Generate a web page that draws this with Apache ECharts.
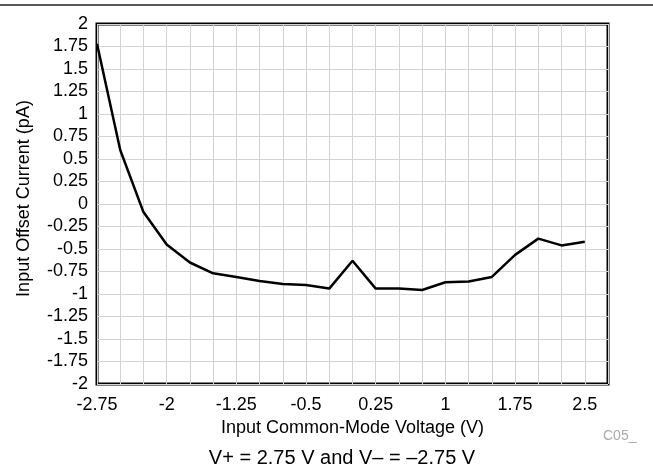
<!DOCTYPE html>
<html>
<head>
<meta charset="utf-8">
<script src="https://cdn.jsdelivr.net/npm/echarts@6/dist/echarts.min.js"></script>
<style>
html,body{margin:0;padding:0;background:#fff;}
#c{width:653px;height:474px;}
</style>
</head>
<body>
<div id="c"></div>
<script>
const voltages = [-2.75,-2.5,-2.25,-2,-1.75,-1.5,-1.25,-1,-0.75,-0.5,-0.25,0,0.25,0.5,0.75,1,1.25,1.5,1.75,2,2.25,2.5];
const offsetCurrent = [1.78,0.6,-0.09,-0.45,-0.65,-0.77,-0.81,-0.855,-0.89,-0.9,-0.94,-0.63,-0.94,-0.94,-0.955,-0.87,-0.86,-0.81,-0.565,-0.385,-0.46,-0.42];
const xTickLabels = ['-2.75','-2','-1.25','-0.5','0.25','1','1.75','2.5'];
const xLabel = 'Input Common-Mode Voltage (V)';
const yLabel = 'Input Offset Current (pA)';
const caption = 'V+ = 2.75 V and V\u2013 = \u20132.75 V';
const codeTag = 'C05_';

const FONT = "'Liberation Sans', Arial, Helvetica, sans-serif";
const chart = echarts.init(document.getElementById('c'));
chart.setOption({
  animation: false,
  textStyle: {fontFamily: FONT},
  grid: {left: 97, right: 45, top: 24, bottom: 90, show: true, borderColor: '#000', borderWidth: 3, backgroundColor: 'transparent'},
  xAxis: {
    type: 'value', min: -2.75, max: 2.75, interval: 0.25,
    axisLine: {show: false}, axisTick: {show: false},
    splitLine: {show: true, lineStyle: {color: '#d3d3d3', width: 1}},
    axisLabel: {
      color: '#000', fontSize: 18, fontFamily: FONT, margin: 12,
      formatter: function (v) {
        const s = String(Math.round(v * 100) / 100);
        return xTickLabels.indexOf(s) >= 0 ? s : '';
      }
    },
    name: xLabel, nameLocation: 'middle', nameGap: 32,
    nameTextStyle: {color: '#000', fontSize: 18, fontFamily: FONT}
  },
  yAxis: {
    type: 'value', min: -2, max: 2, interval: 0.25,
    axisLine: {show: false}, axisTick: {show: false},
    splitLine: {show: true, lineStyle: {color: '#d3d3d3', width: 1}},
    axisLabel: {color: '#000', fontSize: 18, fontFamily: FONT, margin: 9},
    name: yLabel, nameLocation: 'middle', nameGap: 64,
    nameTextStyle: {color: '#000', fontSize: 18, fontFamily: FONT, padding: [0, 0, 0, 11]}
  },
  series: [{
    type: 'line',
    data: voltages.map((v, i) => [v, offsetCurrent[i]]),
    showSymbol: false,
    lineStyle: {color: '#000', width: 2.5},
    z: 3
  }],
  graphic: [
    {type: 'line', shape: {x1: 0, y1: 5, x2: 653, y2: 5}, style: {stroke: '#222', lineWidth: 1.5}},
    {type: 'text', x: 603, y: 429, style: {text: codeTag, fill: '#aaa', fontSize: 14, fontFamily: FONT}},
    {type: 'text', x: 342, y: 448, style: {text: caption, fill: '#000', fontSize: 20, fontFamily: FONT, align: 'center'}}
  ]
});
</script>
</body>
</html>
